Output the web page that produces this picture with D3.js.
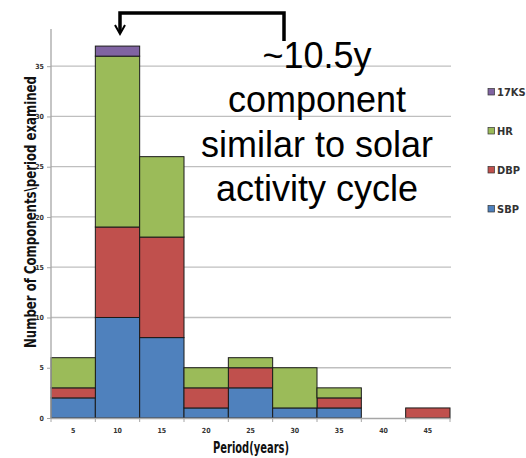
<!DOCTYPE html>
<html>
<head>
<meta charset="utf-8">
<script src="https://cdn.jsdelivr.net/npm/d3@7"></script>
<style>
  html, body { margin: 0; padding: 0; background: #fff; }
  svg { display: block; }
</style>
</head>
<body>
<svg id="chart" width="526" height="458"></svg>
<script>
// Period bins (years) and component counts per measure
const periods = ["5", "10", "15", "20", "25", "30", "35", "40", "45"];
const seriesNames = ["SBP", "DBP", "HR", "17KS"];
const sbp  = [2, 10, 8, 1, 3, 1, 1, 0, 0];
const dbp  = [1,  9, 10, 2, 2, 0, 1, 0, 1];
const hr   = [3, 17, 8, 2, 1, 4, 1, 0, 0];
const ks17 = [0,  1, 0, 0, 0, 0, 0, 0, 0];
const yTicks = [0, 5, 10, 15, 20, 25, 30, 35];
const noteLines = ["~10.5y", "component", "similar to solar", "activity cycle"];

const colors = { SBP: "#4f81bd", DBP: "#c0504d", HR: "#9bbb59", "17KS": "#8064a2" };

const rows = periods.map((p, i) => ({
  period: p, SBP: sbp[i], DBP: dbp[i], HR: hr[i], "17KS": ks17[i]
}));

const svg = d3.select("#chart");
const plotLeft = 51, plotRight = 450, plotBottom = 418, plotTop = 29;
const smallFont = "'Liberation Sans Narrow', 'DejaVu Sans Condensed', 'Liberation Sans', sans-serif";

const x = d3.scaleBand().domain(periods).range([plotLeft, plotRight]).padding(0);
const y = d3.scaleLinear().domain([0, 38.7]).range([plotBottom, plotTop]);

// gridlines
svg.append("g")
  .selectAll("line")
  .data(yTicks.filter(d => d > 0))
  .join("line")
  .attr("x1", plotLeft).attr("x2", plotRight + 1)
  .attr("y1", d => y(d)).attr("y2", d => y(d))
  .attr("stroke", "#bfbfbf").attr("stroke-width", 1.3);

// stacked bars
const stack = d3.stack().keys(seriesNames)(rows);
svg.append("g")
  .selectAll("g")
  .data(stack)
  .join("g")
  .attr("fill", d => colors[d.key])
  .selectAll("rect")
  .data(d => d.filter(s => s[1] - s[0] > 0))
  .join("rect")
  .attr("x", d => x(d.data.period))
  .attr("width", x.bandwidth())
  .attr("y", d => y(d[1]))
  .attr("height", d => y(d[0]) - y(d[1]))
  .attr("stroke", "#1a1a1a")
  .attr("stroke-width", 1);

// y axis
const yAxis = svg.append("g")
  .attr("transform", `translate(${plotLeft},0)`)
  .call(d3.axisLeft(y).tickValues(yTicks).tickSize(4).tickPadding(3));
yAxis.select(".domain").attr("stroke", "#a6a6a6").attr("stroke-width", 1.3)
  .attr("d", `M0,${plotTop}V${plotBottom}`);
yAxis.selectAll(".tick line").attr("stroke", "#a6a6a6");
yAxis.selectAll(".tick text")
  .attr("font-family", smallFont)
  .attr("font-weight", "bold").attr("font-size", 7).attr("fill", "#333");

// x axis
const xAxis = svg.append("g")
  .attr("transform", `translate(0,${plotBottom})`)
  .call(d3.axisBottom(x).tickSize(0).tickPadding(10));
xAxis.select(".domain").attr("stroke", "#a6a6a6").attr("stroke-width", 1.3);
xAxis.selectAll(".tick text")
  .attr("font-family", smallFont)
  .attr("font-weight", "bold").attr("font-size", 7).attr("fill", "#333");
// boundary tick marks between bins
xAxis.append("g")
  .selectAll("line")
  .data(periods.map(p => x(p)).concat([x(periods[periods.length - 1]) + x.bandwidth()]))
  .join("line")
  .attr("x1", d => d).attr("x2", d => d)
  .attr("y1", 0).attr("y2", 4)
  .attr("stroke", "#a6a6a6");

// axis titles
svg.append("text")
  .attr("x", 251).attr("y", 453)
  .attr("text-anchor", "middle")
  .attr("font-family", smallFont)
  .attr("font-weight", "bold").attr("font-size", 15).attr("fill", "#111")
  .attr("textLength", 76).attr("lengthAdjust", "spacingAndGlyphs")
  .text("Period(years)");

svg.append("text")
  .attr("transform", "translate(36,212) rotate(-90)")
  .attr("text-anchor", "middle")
  .attr("font-family", smallFont)
  .attr("font-weight", "bold").attr("font-size", 15).attr("fill", "#111")
  .attr("textLength", 272).attr("lengthAdjust", "spacingAndGlyphs")
  .text("Number of Components\\period examined");

// legend (top to bottom: 17KS, HR, DBP, SBP)
const legendOrder = seriesNames.slice().reverse();
const legend = svg.append("g")
  .selectAll("g")
  .data(legendOrder)
  .join("g")
  .attr("transform", (d, i) => `translate(488,${92 + i * 39})`);
legend.append("rect")
  .attr("x", 0).attr("y", -3.5).attr("width", 6.5).attr("height", 6.5)
  .attr("fill", d => colors[d]).attr("stroke", "#333").attr("stroke-width", 0.7);
legend.append("text")
  .attr("x", 9).attr("y", 3.8)
  .attr("font-family", smallFont)
  .attr("font-weight", "bold").attr("font-size", 11).attr("fill", "#333")
  .text(d => d);

// annotation bracket pointing to the 10-year bin
svg.append("path")
  .attr("d", "M284,41V13H120V32")
  .attr("fill", "none").attr("stroke", "#000").attr("stroke-width", 3.5);
svg.append("path")
  .attr("d", "M115,25L120,34L125,25")
  .attr("fill", "none").attr("stroke", "#000").attr("stroke-width", 2);

svg.append("g")
  .selectAll("text")
  .data(noteLines)
  .join("text")
  .attr("x", 317)
  .attr("y", (d, i) => 68 + i * 44.3)
  .attr("text-anchor", "middle")
  .attr("font-family", "'Liberation Sans', Arial, sans-serif")
  .attr("font-size", 36).attr("fill", "#000")
  .text(d => d);
</script>
</body>
</html>
